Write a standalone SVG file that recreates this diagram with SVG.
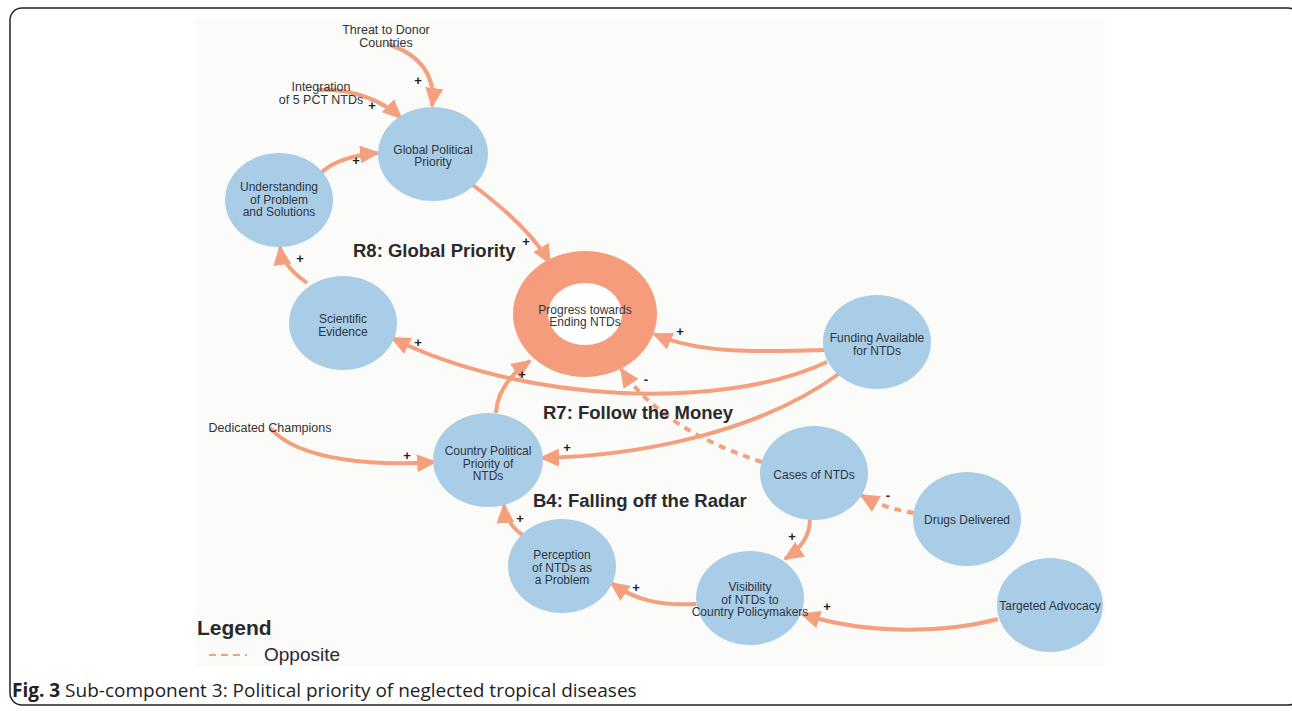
<svg xmlns="http://www.w3.org/2000/svg" width="1292" height="711" viewBox="0 0 1292 711">
<defs>
<marker id="ah" markerUnits="userSpaceOnUse" markerWidth="20" markerHeight="18" viewBox="0 0 20 18" refX="18" refY="9" orient="auto">
<path d="M0,0 L20,9 L0,18 Z" fill="#f4a07e"/>
</marker>
<style>
.node{fill:#a9cde6;}
.nt{font-family:"Liberation Sans",Arial,sans-serif;font-size:12px;fill:#2f3640;text-anchor:middle;}
.lt{font-family:"Liberation Sans",Arial,sans-serif;font-size:12.5px;fill:#333;text-anchor:middle;}
.sg{font-family:"Liberation Sans",Arial,sans-serif;font-size:13px;font-weight:bold;fill:#222;text-anchor:middle;}
.loop{font-family:"Liberation Sans",Arial,sans-serif;font-size:18.5px;font-weight:bold;fill:#2a2a2a;}
.e{fill:none;stroke:#f4a07e;stroke-width:4;marker-end:url(#ah);}
.d{fill:none;stroke:#f4a07e;stroke-width:4;stroke-dasharray:7 6;marker-end:url(#ah);}
</style>
</defs>
<rect x="0" y="0" width="1292" height="711" fill="#ffffff"/>
<rect x="10" y="8" width="1290" height="697" rx="12" ry="12" fill="none" stroke="#222" stroke-width="1.5"/>
<rect x="195" y="18" width="910" height="648" fill="#fbfbf9"/>

<g id="connectors">
<path class="e" d="M388 44 C420 55 436 75 432 106"/>
<path class="e" d="M318 90 C350 88 382 100 401 118"/>
<path class="e" d="M322 172 C335 160 355 155 378 153"/>
<path class="e" d="M470 183 C500 205 532 232 550 263"/>
<path class="e" d="M307 283 C292 272 282 262 280 247"/>
<path class="e" d="M824 350 C760 352 700 354 654 334"/>
<path class="e" d="M827 362 C720 412 520 402 392 338"/>
<path class="e" d="M840 373 C760 432 640 456 541 458"/>
<path class="e" d="M496 413 C497 392 510 375 530 361"/>
<path class="d" d="M762 462 C700 442 650 412 621 369"/>
<path class="e" d="M270 428 C300 462 380 466 435 462"/>
<path class="e" d="M524 536 C512 528 505 518 504 505"/>
<path class="d" d="M914 513 C895 510 878 505 861 495"/>
<path class="e" d="M810 519 C810 535 802 548 785 559"/>
<path class="e" d="M696 604 C660 606 635 600 611 583"/>
<path class="e" d="M998 619 C950 632 870 636 802 614"/>
</g>

<g id="signs">
<text class="sg" x="418" y="85">+</text>
<text class="sg" x="372" y="110">+</text>
<text class="sg" x="356" y="165">+</text>
<text class="sg" x="526" y="246">+</text>
<text class="sg" x="300" y="263">+</text>
<text class="sg" x="680" y="336">+</text>
<text class="sg" x="418" y="347">+</text>
<text class="sg" x="522" y="379">+</text>
<text class="sg" x="646" y="384">-</text>
<text class="sg" x="567" y="452">+</text>
<text class="sg" x="407" y="460">+</text>
<text class="sg" x="520" y="523">+</text>
<text class="sg" x="888" y="500">-</text>
<text class="sg" x="792" y="541">+</text>
<text class="sg" x="636" y="592">+</text>
<text class="sg" x="827" y="611">+</text>
</g>

<g id="external-labels">
<text class="lt" x="386" y="34">Threat to Donor</text>
<text class="lt" x="386" y="47">Countries</text>
<text class="lt" x="321" y="91">Integration</text>
<text class="lt" x="321" y="104">of 5 PCT NTDs</text>
<text class="lt" x="270" y="432">Dedicated Champions</text>
</g>

<g id="node-progress">
<ellipse cx="585" cy="314" rx="72" ry="63" fill="#f59c7c"/>
<ellipse cx="585" cy="314" rx="37" ry="31" fill="#ffffff"/>
<text class="nt" x="585" y="314">Progress towards</text>
<text class="nt" x="585" y="326">Ending NTDs</text>
</g>
<g id="node-global">
<ellipse class="node" cx="433" cy="154" rx="55" ry="47"/>
<text class="nt" x="433" y="154">Global Political</text>
<text class="nt" x="433" y="166">Priority</text>
</g>
<g id="node-understanding">
<ellipse class="node" cx="279" cy="200" rx="54" ry="47"/>
<text class="nt" x="279" y="191">Understanding</text>
<text class="nt" x="279" y="203.5">of Problem</text>
<text class="nt" x="279" y="216">and Solutions</text>
</g>
<g id="node-scientific">
<ellipse class="node" cx="343" cy="323" rx="54" ry="47"/>
<text class="nt" x="343" y="323">Scientific</text>
<text class="nt" x="343" y="335.5">Evidence</text>
</g>
<g id="node-funding">
<ellipse class="node" cx="877" cy="342" rx="54" ry="47"/>
<text class="nt" x="877" y="342">Funding Available</text>
<text class="nt" x="877" y="354.5">for NTDs</text>
</g>
<g id="node-country">
<ellipse class="node" cx="488" cy="460" rx="55" ry="47"/>
<text class="nt" x="488" y="455">Country Political</text>
<text class="nt" x="488" y="467.5">Priority of</text>
<text class="nt" x="488" y="480">NTDs</text>
</g>
<g id="node-cases">
<ellipse class="node" cx="814" cy="473" rx="54" ry="47"/>
<text class="nt" x="814" y="479">Cases of NTDs</text>
</g>
<g id="node-drugs">
<ellipse class="node" cx="967" cy="519" rx="54" ry="47"/>
<text class="nt" x="967" y="524">Drugs Delivered</text>
</g>
<g id="node-perception">
<ellipse class="node" cx="562" cy="566" rx="54" ry="47"/>
<text class="nt" x="562" y="559">Perception</text>
<text class="nt" x="562" y="571.5">of NTDs as</text>
<text class="nt" x="562" y="584">a Problem</text>
</g>
<g id="node-visibility">
<ellipse class="node" cx="750" cy="598" rx="54" ry="47"/>
<text class="nt" x="750" y="591">Visibility</text>
<text class="nt" x="750" y="603.5">of NTDs to</text>
<text class="nt" x="750" y="616">Country Policymakers</text>
</g>
<g id="node-targeted">
<ellipse class="node" cx="1050" cy="605" rx="53" ry="47"/>
<text class="nt" x="1050" y="610">Targeted Advocacy</text>
</g>

<g id="loop-labels">
<text class="loop" x="353" y="257">R8: Global Priority</text>
<text class="loop" x="543" y="419">R7: Follow the Money</text>
<text class="loop" x="533" y="507">B4: Falling off the Radar</text>
</g>

<g id="legend">
<text x="197" y="635" font-family="Liberation Sans,Arial,sans-serif" font-size="21" font-weight="bold" fill="#2a2a2a">Legend</text>
<line x1="209" y1="655" x2="247" y2="655" stroke="#f4a07e" stroke-width="2" stroke-dasharray="7 5"/>
<text x="264" y="661" font-family="Liberation Sans,Arial,sans-serif" font-size="19" fill="#2a2a2a">Opposite</text>
</g>

<g id="caption">
<text x="12" y="697" font-family="Open Sans,Liberation Sans,sans-serif" font-size="19" fill="#222"><tspan font-weight="bold">Fig. 3</tspan> Sub-component 3: Political priority of neglected tropical diseases</text>
</g>
</svg>
